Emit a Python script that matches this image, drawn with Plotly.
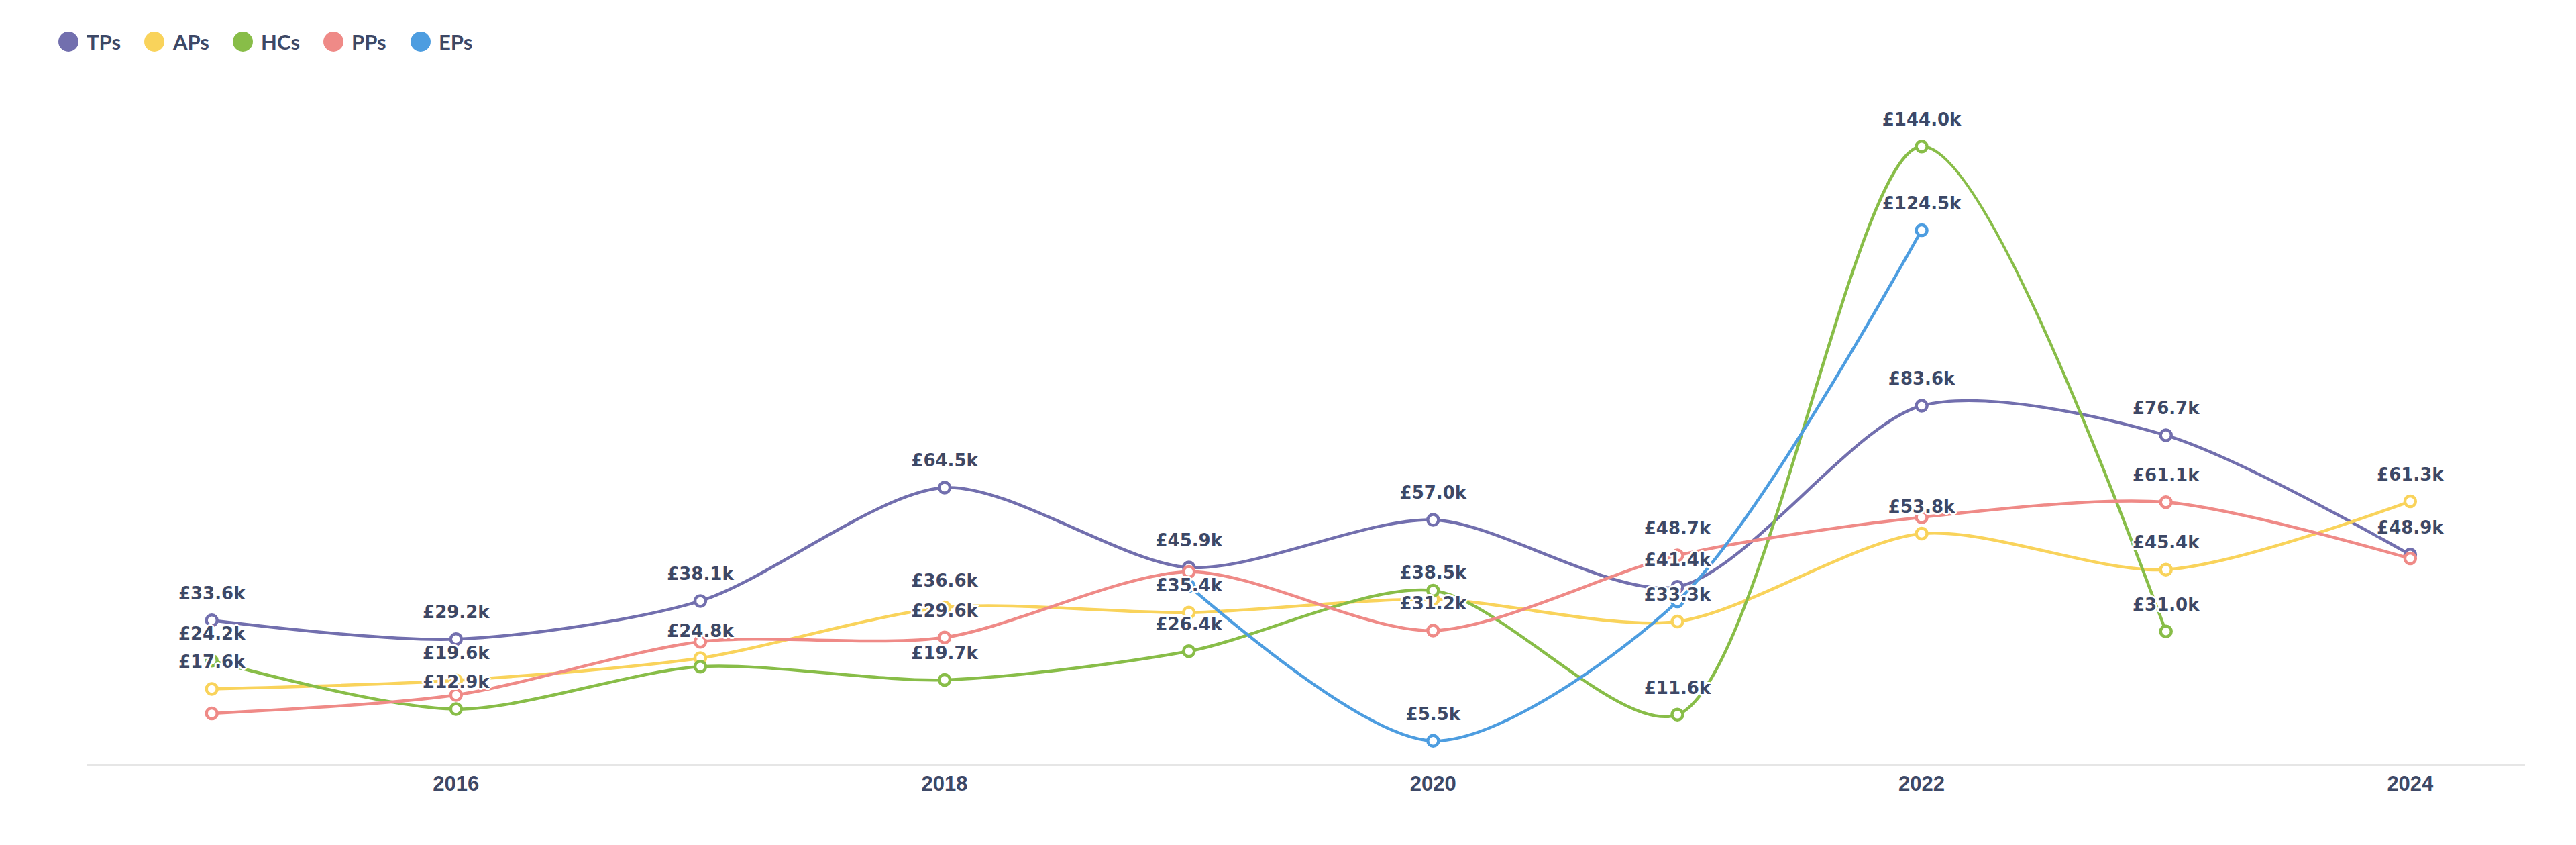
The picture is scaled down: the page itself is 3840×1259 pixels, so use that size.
import plotly.graph_objects as go

# ---------------- data ----------------
YEARS = [2015, 2016, 2017, 2018, 2019, 2020, 2021, 2022, 2023, 2024]
TICK_YEARS = [2016, 2018, 2020, 2022, 2024]

SERIES_NAMES = ["TPs", "APs", "HCs", "PPs", "EPs"]
TPS = [33.6, 29.2, 38.1, 64.5, 45.9, 57.0, 41.4, 83.6, 76.7, 48.9]
APS = [17.6, 19.6, 24.8, 36.6, 35.4, 38.5, 33.3, 53.8, 45.4, 61.3]
HCS = [24.2, 12.9, 22.8, 19.7, 26.4, 40.5, 11.6, 144.0, 31.0, None]
PPS = [11.9, 16.2, 28.6, 29.6, 44.9, 31.2, 48.7, 57.6, 61.1, 48.0]
EPS = [None, None, None, None, 41.6, 5.5, 38.0, 124.5, None, None]

# labels that are hidden in the chart (overlap)
HIDDEN_TPS = []
HIDDEN_APS = []
HIDDEN_HCS = [2017, 2020]
HIDDEN_PPS = [2015, 2016, 2017, 2019, 2022, 2024]
HIDDEN_EPS = [2019, 2021]

COLORS = ["#726fae", "#f9d35b", "#88bd48", "#ef8a87", "#4d9de0"]
TEXT_COLOR = "#3d4866"

VALUES = [TPS, APS, HCS, PPS, EPS]
HIDDEN = [HIDDEN_TPS, HIDDEN_APS, HIDDEN_HCS, HIDDEN_PPS, HIDDEN_EPS]

# ---------------- layout geometry (pixels) ----------------
W, H = 3840, 1259
PL, PR, PT, PB = 130, 76, 116, 120
plot_w = W - PL - PR
plot_h = H - PT - PB

HALO = ("3px 0 0 #fff, -3px 0 0 #fff, 0 3px 0 #fff, 0 -3px 0 #fff, "
        "2px 2px 0 #fff, -2px -2px 0 #fff, 2px -2px 0 #fff, -2px 2px 0 #fff")

fig = go.Figure()

# lines with hollow markers
for name, vals, col in zip(SERIES_NAMES, VALUES, COLORS):
    fig.add_trace(go.Scatter(
        x=YEARS, y=vals, name=name, mode="lines+markers",
        line=dict(color=col, width=4.5, shape="spline", smoothing=0.8),
        marker=dict(symbol="circle", size=16, color="#ffffff",
                    line=dict(color=col, width=4.5)),
        connectgaps=False, showlegend=False, cliponaxis=False,
    ))

# value labels on top of everything
for name, vals, hid in zip(SERIES_NAMES, VALUES, HIDDEN):
    texts = []
    for yr, v in zip(YEARS, vals):
        if v is None or yr in hid:
            texts.append("")
        else:
            texts.append(f"£{v:.1f}k")
    fig.add_trace(go.Scatter(
        x=YEARS, y=vals, mode="markers+text", text=texts,
        textposition="top center",
        textfont=dict(family="DejaVu Sans", size=26, color=TEXT_COLOR,
                      weight="bold", shadow=HALO),
        marker=dict(size=38, opacity=0),
        hoverinfo="skip", showlegend=False, cliponaxis=False,
    ))

# manual legend (big round swatches)
LEG_X = [102, 230, 362, 497, 627]
LEG_Y = 62
shapes = []
annotations = []
for name, col, lx in zip(SERIES_NAMES, COLORS, LEG_X):
    xa = (lx - PL) / plot_w
    ya = (H - PB - LEG_Y) / plot_h
    shapes.append(dict(type="circle", xref="paper", yref="paper",
                       xsizemode="pixel", ysizemode="pixel",
                       xanchor=xa, yanchor=ya, x0=-15, x1=15, y0=-15, y1=15,
                       fillcolor=col, line=dict(width=0), layer="above"))
    annotations.append(dict(text=name, xref="paper", yref="paper",
                            x=(lx + 25 - PL) / plot_w, y=ya,
                            xanchor="left", yanchor="middle", showarrow=False,
                            font=dict(family="Lato", size=31, color=TEXT_COLOR,
                                      weight="bold")))

fig.update_layout(
    width=W, height=H,
    margin=dict(l=PL, r=PR, t=PT, b=PB),
    paper_bgcolor="#ffffff", plot_bgcolor="#ffffff",
    shapes=shapes, annotations=annotations,
    showlegend=False,
    xaxis=dict(range=[2014.49, 2024.47], tickvals=TICK_YEARS,
               ticktext=[str(t) for t in TICK_YEARS],
               showgrid=False, zeroline=False, showline=True,
               linecolor="#e6e6e6", linewidth=2, ticks="",
               ticklabelstandoff=0,
               tickfont=dict(family="Liberation Sans", size=31,
                             color=TEXT_COLOR, weight="bold")),
    yaxis=dict(range=[0, 160], visible=False, showgrid=False, zeroline=False),
)

fig.write_html("out.html",
               config={"displayModeBar": False},
               post_script="document.body.style.margin='0';document.body.style.overflow='hidden';")
